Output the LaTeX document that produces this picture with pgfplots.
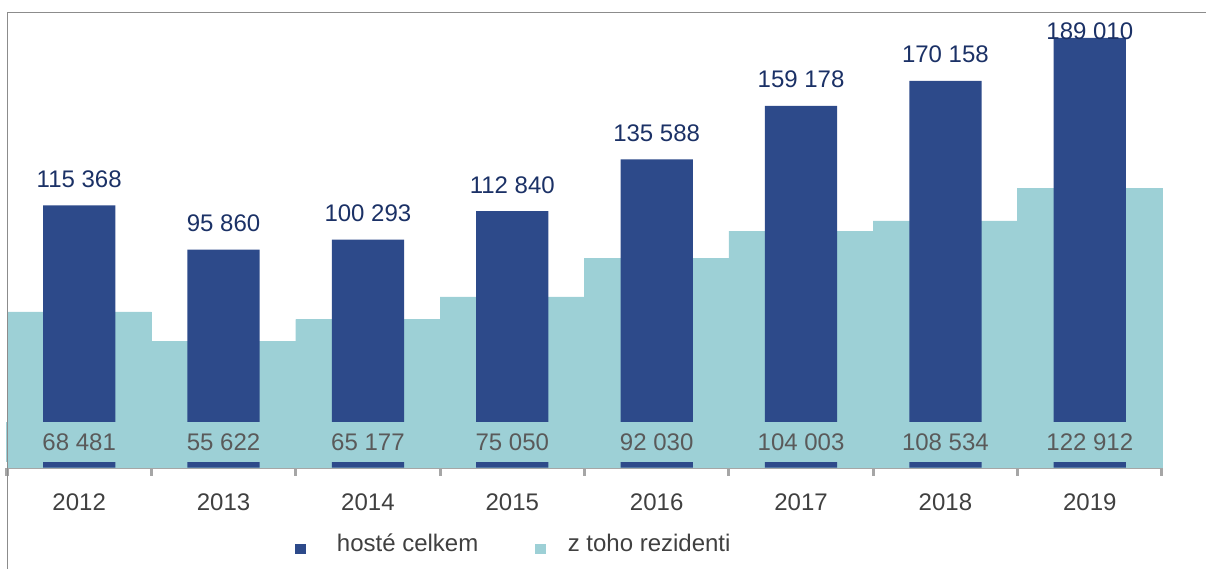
\documentclass[border=0pt]{standalone}
\usepackage{fontspec}
\setmainfont{Liberation Sans}
\usepackage{pgfplots}
\pgfplotsset{compat=1.18}
\definecolor{barblue}{HTML}{2D4A8A}
\definecolor{areacyan}{HTML}{9DD0D6}
\definecolor{toplab}{HTML}{1B3166}
\definecolor{reslab}{HTML}{5A5A5A}
\definecolor{ticklab}{HTML}{404040}
\definecolor{axisgray}{HTML}{A6A6A6}
\definecolor{framegray}{HTML}{8C8C8C}
\pgfplotsset{
  legsq/.style={legend image code/.code={\fill[##1,draw=none] (0bp,-10.5bp) rectangle (11bp,-0.5bp); \path (0bp,0bp) (#1,0bp);}}
}
\newcommand{\lab}{\fontsize{24bp}{28bp}\selectfont}
\begin{document}
\begin{tikzpicture}
\path[use as bounding box] (0,0) rectangle (1206bp,569bp);
\begin{axis}[
  at={(7bp,101.5bp)}, anchor=south west,
  scale only axis, width=1155bp, height=454.5bp,
  xmin=-0.5, xmax=7.5, ymin=0, ymax=200000,
  axis x line*=bottom, hide y axis,
  axis line style={axisgray, line width=3bp, -},
  xtick={0,...,7},
  xticklabels={2012,2013,2014,2015,2016,2017,2018,2019},
  major tick length=0pt,
  minor xtick={-0.5,0.5,...,7.5},
  minor tick length=8bp,
  tick align=outside,
  minor tick style={axisgray, line width=3bp},
  xticklabel style={font=\lab, text=ticklab, anchor=base, yshift=-43bp},
  /pgf/number format/assume math mode=true,
  clip=false,
  legend style={at={(0.249,-0.167)}, anchor=west, draw=none, fill=none,
    inner sep=0pt, outer sep=0pt, font=\lab, text=ticklab,
    legend columns=2, /tikz/every even column/.append style={column sep=54bp}},
]
\addlegendimage{legsq=40bp, fill=barblue}
\addlegendentry{hosté celkem}
\addlegendimage{legsq=31bp, fill=areacyan}
\addlegendentry{z toho rezidenti}
% z toho rezidenti (step area as full-width bars)
\addplot[forget plot, ybar, bar width=1, bar shift=0pt, fill=areacyan, draw=areacyan, line width=0.3bp]
  coordinates {(0,68481) (1,55622) (2,65177) (3,75050) (4,92030) (5,104003) (6,108534) (7,122912)};
% hoste celkem
\addplot[forget plot, ybar, bar width=0.5, bar shift=0pt, fill=barblue, draw=none]
  coordinates {(0,115368) (1,95860) (2,100293) (3,112840) (4,135588) (5,159178) (6,170158) (7,189010)};
% resident labels on cyan boxes
\foreach \i/\t in {0/68 481,1/55 622,2/65 177,3/75 050,4/92 030,5/104 003,6/108 534,7/122 912}{
  \edef\temp{\noexpand\node[fill=areacyan, minimum width=146bp, minimum height=40bp, inner sep=0pt,
     text=reslab, font=\noexpand\lab, anchor=south, yshift=5bp] at (axis cs:\i,0) {\t};}
  \temp
}
% total labels
\node[font=\lab, text=toplab, anchor=base, yshift=18bp] at (axis cs:0,115368) {115 368};
\node[font=\lab, text=toplab, anchor=base, yshift=18bp] at (axis cs:1,95860) {95 860};
\node[font=\lab, text=toplab, anchor=base, yshift=18bp] at (axis cs:2,100293) {100 293};
\node[font=\lab, text=toplab, anchor=base, yshift=18bp] at (axis cs:3,112840) {112 840};
\node[font=\lab, text=toplab, anchor=base, yshift=18bp] at (axis cs:4,135588) {135 588};
\node[font=\lab, text=toplab, anchor=base, yshift=18bp] at (axis cs:5,159178) {159 178};
\node[font=\lab, text=toplab, anchor=base, yshift=18bp] at (axis cs:6,170158) {170 158};
\node[font=\lab, text=toplab, anchor=base, yshift=-2bp] at (axis cs:7,189010) {189 010};
\end{axis}
\draw[framegray, line width=1.2bp] (7.3bp,0) -- (7.3bp,556.7bp) -- (1206bp,556.7bp);
\end{tikzpicture}
\end{document}
